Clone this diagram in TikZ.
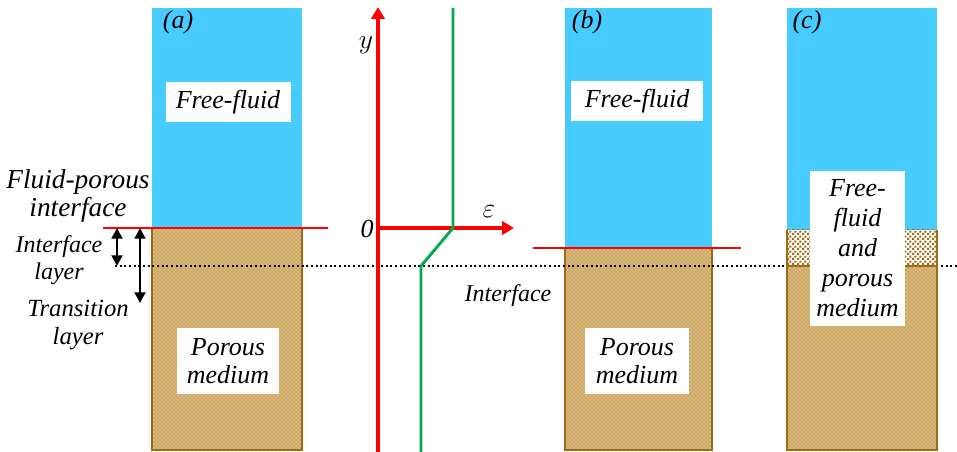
\documentclass[tikz,border=0pt]{standalone}
\usepackage{fontspec}
\setmainfont{Liberation Serif}
\usetikzlibrary{patterns,arrows.meta}
\definecolor{sky}{RGB}{72,204,255}
\definecolor{soil}{RGB}{160,105,20}
\definecolor{sand}{RGB}{218,185,125}
\definecolor{curve}{RGB}{0,170,80}
\pgfdeclarepatternformonly{coarse dots}{\pgfpointorigin}{\pgfqpoint{3.6pt}{3.6pt}}{\pgfqpoint{3.6pt}{3.6pt}}{%
  \pgfpathrectangle{\pgfqpoint{0.1pt}{0.1pt}}{\pgfqpoint{1.5pt}{1.5pt}}
  \pgfpathrectangle{\pgfqpoint{1.9pt}{1.9pt}}{\pgfqpoint{1.5pt}{1.5pt}}\pgfusepath{fill}}
\newcommand\lblsize[1]{\fontsize{#1}{20.5}\selectfont}
\tikzset{
  lbl/.style={font=\rmfamily\itshape\lblsize{19.5}, align=center, inner sep=1pt},
  whitebox/.style={lbl, fill=white, inner sep=3pt},
  axis/.style={red, line width=3pt, -{Triangle[length=9pt,width=10pt]}},
  layer/.style={black, line width=2pt, {Triangle[length=8pt,width=8pt]}-{Triangle[length=8pt,width=8pt]}}
}
\begin{document}
\begin{tikzpicture}[x=0.75pt,y=-0.75pt]
\useasboundingbox (0,0) rectangle (957,452);
% panel (a)
\fill [sky] (152,8) rectangle (302,228);
\fill [sand] (152,228) rectangle (302,450);
\fill [pattern=crosshatch dots, pattern color=soil] (152,228) rectangle (302,450);
\draw [soil, line width=1.6pt] (152,228) -- (152,450) -- (302,450) -- (302,228);
% panel (b)
\fill [sky] (565,8) rectangle (712,248);
\fill [sand] (565,248) rectangle (712,450);
\fill [pattern=crosshatch dots, pattern color=soil] (565,248) rectangle (712,450);
\draw [soil, line width=1.2pt] (565,248) -- (565,450) -- (712,450) -- (712,248);
% interface line
\coordinate (d1) at (115,266);
\coordinate (d2) at (957,266);
\draw [dotted, line width=1.5pt] (d1) -- (d2);
% panel (c)
\fill [sky] (787,8) rectangle (937,230);
\fill [white] (787,230) rectangle (937,266);
\fill [pattern=coarse dots, pattern color=soil] (787,230) rectangle (937,266);
\fill [sand] (787,266) rectangle (937,450);
\fill [pattern=crosshatch dots, pattern color=soil] (787,266) rectangle (937,450);
\draw [soil, line width=1.2pt] (787,230) -- (787,450) -- (937,450) -- (937,230);
\draw [soil, line width=1pt] (787,266) -- (937,266);
% red interface lines
\coordinate (ra1) at (103,228);
\coordinate (ra2) at (328,228);
\draw [red, line width=2.2pt] (ra1) -- (ra2);
\coordinate (rb1) at (533,248);
\coordinate (rb2) at (741,248);
\draw [red, line width=2.2pt] (rb1) -- (rb2);
% layer arrows
\coordinate (il1) at (117,228);
\coordinate (il2) at (117,266);
\coordinate (tl1) at (140,228);
\coordinate (tl2) at (140,303);
\draw [layer] (il1) -- (il2);
\draw [layer] (tl1) -- (tl2);
% porosity profile
\coordinate (O) at (378,228);
\coordinate (ytop) at (378,7);
\coordinate (ybot) at (378,452);
\coordinate (xend) at (514,228);
\draw [axis] (ybot) -- (ytop);
\draw [axis] (O) -- (xend);
\coordinate (g1) at (453,8);
\coordinate (g2) at (453,228);
\coordinate (g3) at (421,266);
\coordinate (g4) at (421,452);
\draw [curve, line width=2.2pt] (g1) -- (g2) -- (g3) -- (g4);
\node [lbl] (ylab) at (366,45) {$y$};
\node [lbl] (epslab) at (489,212) {$\varepsilon$};
\node [lbl] (zero) at (367,229) {0};
% labels
\node [lbl] (ta) at (178,22) {(a)};
\node [lbl] (tb) at (587,22) {(b)};
\node [lbl] (tc) at (807,22) {(c)};
\node [whitebox, minimum width=125pt*0.75, minimum height=40pt*0.75] (ffa) at (228,102) {Free-fluid};
\node [whitebox, minimum width=132pt*0.75, minimum height=40pt*0.75] (ffb) at (637,101) {Free-fluid};
\node [whitebox, minimum width=102pt*0.75, minimum height=65pt*0.75] (pma) at (228,361) {Porous\\medium};
\node [whitebox, minimum width=104pt*0.75, minimum height=65pt*0.75] (pmb) at (637,361) {Porous\\medium};
\node [whitebox, font=\rmfamily\itshape\fontsize{19.5}{22.5}\selectfont, minimum width=95pt*0.75, minimum height=155pt*0.75] (mix) at (857.5,248.5) {Free-\\fluid\\and\\porous\\medium};
\node [lbl, font=\rmfamily\itshape\lblsize{20.5}] (fpi) at (78,196) {Fluid-porous\\interface};
\node [lbl, font=\rmfamily\itshape\lblsize{18}] (ilay) at (59,260) {Interface\\layer};
\node [lbl, font=\rmfamily\itshape\lblsize{18.5}] (tlay) at (78,325) {Transition\\layer};
\node [lbl, font=\rmfamily\itshape\lblsize{18}] (ifc) at (508,296) {Interface};
\end{tikzpicture}
\end{document}
